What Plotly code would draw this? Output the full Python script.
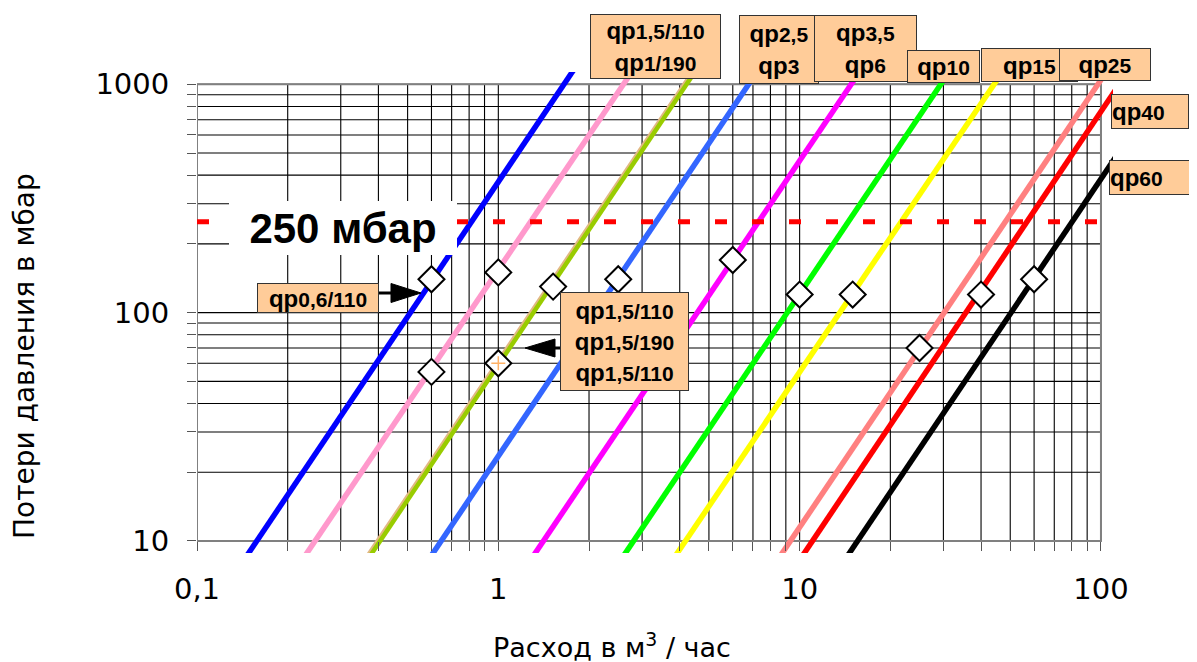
import plotly.graph_objects as go

# ---------------- data ----------------
series_names = ["qp0,6/110", "qp1,5/110", "qp1/190", "qp1,5/190", "qp2,5/qp3",
                "qp3,5/qp6", "qp10", "qp15", "qp25", "qp40", "qp60"]
series_colors = ["#0000FF", "#FF99CC", "#E2B883", "#99CC00", "#3366FF",
                 "#FF00FF", "#00FF00", "#FFFF00", "#FF8080", "#FF0000", "#000000"]
# flow (m3/h) at the lower and upper ends of each straight line (log-log)
x_low = [0.141, 0.220, 0.357, 0.362, 0.577, 1.26, 2.51, 3.73, 8.32, 9.85, 13.9]
x_high = [1.96, 3.09, 4.94, 5.00, 8.04, 17.6, 34.9, 52.5, 116.0, 136.5, 193.0]
y_low = [8.0] * 11
y_high = [1400.0] * 11

# operating points (diamonds)
point_x = [0.6, 0.6, 1.0, 1.0, 1.52, 2.5, 6.0, 10.0, 15.0, 25.0, 40.0, 60.0]
point_y = [140, 55, 150, 60, 130, 140, 170, 120, 120, 70, 120, 140]
plus_x = [1.0]
plus_y = [60]

limit_value = 250  # mbar
limit_x = [0.1, 115]

x_grid = [0.1, 0.2, 0.3, 0.4, 0.5, 0.6, 0.7, 0.8, 0.9,
          1, 2, 3, 4, 5, 6, 7, 8, 9,
          10, 20, 30, 40, 50, 60, 70, 80, 90, 100]
y_grid = [10, 20, 30, 40, 50, 60, 70, 80, 90,
          100, 200, 300, 400, 500, 600, 700, 800, 900, 1000]
x_major = {0.1: "0,1", 1: "1", 10: "10", 100: "100"}
y_major = {10: "10", 100: "100", 1000: "1000"}

# ---------------- layout geometry (screen pixels; page body has an 8px margin) ----------------
OFF = 8
W, H = 1197 - OFF, 662 - OFF
SL, SR, ST, SB = 197, 1113, 72, 553   # plot area in screen pixels
L, R, T, B = SL - OFF, SR - OFF, ST - OFF, SB - OFF
XR = [-1, 2.040]
YR = [0.947, 3.054]


def P(px, py):
    """screen pixel -> paper coords"""
    return (px - SL) / (SR - SL), (SB - py) / (SB - ST)


fig = go.Figure()

# grid
gx, gy = [], []
for v in x_grid:
    gx += [v, v, None]
    gy += [y_grid[0], y_grid[-1], None]
for v in y_grid:
    gx += [x_grid[0], x_grid[-1], None]
    gy += [v, v, None]
fig.add_trace(go.Scatter(x=gx, y=gy, mode="lines", line=dict(color="#000000", width=1.1),
                         hoverinfo="skip", showlegend=False))
# frame
fig.add_trace(go.Scatter(x=[x_grid[0], x_grid[-1], x_grid[-1], x_grid[0], x_grid[0]],
                         y=[y_grid[0], y_grid[0], y_grid[-1], y_grid[-1], y_grid[0]],
                         mode="lines", line=dict(color="#808080", width=2),
                         hoverinfo="skip", showlegend=False))

for name, c, x0, x1, y0, y1 in zip(series_names, series_colors, x_low, x_high, y_low, y_high):
    w = 4.5 if name == "qp1,5/190" else 5.5
    fig.add_trace(go.Scatter(x=[x0, x1], y=[y0, y1], mode="lines", name=name,
                             line=dict(color=c, width=w), showlegend=False))

fig.add_trace(go.Scatter(x=limit_x, y=[limit_value, limit_value], mode="lines",
                         line=dict(color="#FF0000", width=5, dash="12px,25px"),
                         showlegend=False))

fig.add_trace(go.Scatter(x=point_x, y=point_y, mode="markers",
                         marker=dict(symbol="diamond", size=20, color="white",
                                     line=dict(color="black", width=2)),
                         showlegend=False))
fig.add_trace(go.Scatter(x=plus_x, y=plus_y, mode="markers",
                         marker=dict(symbol="cross-thin", size=10,
                                     line=dict(color="#FFB266", width=1.5)),
                         showlegend=False))

TICKFONT = dict(family="DejaVu Sans, Arial, sans-serif", size=29, color="black")

fig.update_xaxes(type="log", range=XR, tickmode="array", tickvals=x_grid,
                 ticktext=[x_major.get(v, "") for v in x_grid],
                 showgrid=False, zeroline=False, showline=False,
                 ticks="outside", ticklen=9, tickwidth=1, tickcolor="#555555",
                 tickfont=TICKFONT, anchor="free",
                 position=(1 - YR[0]) / (YR[1] - YR[0]), ticklabelstandoff=13)
fig.update_yaxes(type="log", range=YR, tickmode="array", tickvals=y_grid,
                 ticktext=[y_major.get(v, "") for v in y_grid],
                 showgrid=False, zeroline=False, showline=False,
                 ticks="outside", ticklen=9, tickwidth=1, tickcolor="#555555",
                 tickfont=TICKFONT, ticklabelstandoff=12)

annotations = []
LABFONT = dict(family="Liberation Sans, Arial, sans-serif", size=24, color="black")


def qp(s):
    return "<b>qp<span style='font-size:21px'>%s</span></b>" % s


def box(text, x0, y0, x1, y1, align="center"):
    ax, ay = P(x0, y0)
    annotations.append(dict(x=ax, y=ay, xref="paper", yref="paper", xanchor="left",
                            yanchor="top", text=text, showarrow=False,
                            width=x1 - x0 - 2, height=y1 - y0 - 2, align=align,
                            valign="middle", bgcolor="#FFCC99", bordercolor="#333333",
                            borderwidth=1, borderpad=0, font=LABFONT))


box(qp("1,5/110") + "<br>" + qp("1/190"), 590, 14, 721, 79)
box(qp("2,5") + "<br>" + qp("3"), 739, 15, 819, 84)
box(qp("3,5") + "<br>" + qp("6"), 814, 15, 917, 82)
box(qp("10"), 907, 50, 980, 83)
box(qp("15"), 981, 48, 1078, 82)
box(qp("25"), 1059, 48, 1151, 81)
box(qp("40"), 1111, 94, 1189, 129, align="left")
box(qp("60"), 1109, 160, 1195, 195, align="left")
box(qp("0,6/110"), 257, 283, 379, 313)
box(qp("1,5/110") + "<br>" + qp("1,5/190") + "<br>" + qp("1,5/110"), 560, 292, 689, 391)

# 250 mbar label
bx, by = P(229, 201)
annotations.append(dict(x=bx, y=by, xref="paper", yref="paper", xanchor="left", yanchor="top",
                        text="<b>250 мбар</b>", showarrow=False, width=228, height=54,
                        bgcolor="white", borderpad=0, borderwidth=0,
                        font=dict(family="Liberation Sans, Arial, sans-serif", size=42,
                                  color="black")))

# axis titles
tx, ty = P(612, 645)
annotations.append(dict(x=tx, y=ty, xref="paper", yref="paper", xanchor="center",
                        yanchor="middle", text="Расход в м<sup>3</sup> / час", showarrow=False,
                        font=dict(family="DejaVu Sans, Arial, sans-serif", size=27,
                                  color="black")))
tx, ty = P(24, 356)
annotations.append(dict(x=tx, y=ty, xref="paper", yref="paper", xanchor="center",
                        yanchor="middle", text="Потери давления в мбар", showarrow=False,
                        textangle=-90,
                        font=dict(family="DejaVu Sans, Arial, sans-serif", size=28,
                                  color="black")))

# arrows
shapes = []


def seg(x0, y0, x1, y1):
    a, b = P(x0, y0)
    c, d = P(x1, y1)
    shapes.append(dict(type="line", xref="paper", yref="paper", x0=a, y0=b, x1=c, y1=d,
                       line=dict(color="black", width=3), layer="above"))


def tri(pts):
    path = "M " + " L ".join("%f,%f" % P(px, py) for px, py in pts) + " Z"
    shapes.append(dict(type="path", xref="paper", yref="paper", path=path,
                       fillcolor="black", line=dict(color="black", width=1), layer="above"))


seg(379, 293, 393, 293)
tri([(421, 293), (391, 283.5), (391, 302.5)])
seg(553, 348, 560, 348)
tri([(525, 348), (555, 339), (555, 357)])

fig.update_layout(width=W, height=H, margin=dict(l=L, r=W - R, t=T, b=H - B),
                  plot_bgcolor="white", paper_bgcolor="white",
                  annotations=annotations, shapes=shapes, showlegend=False)

fig.write_html("out.html")
